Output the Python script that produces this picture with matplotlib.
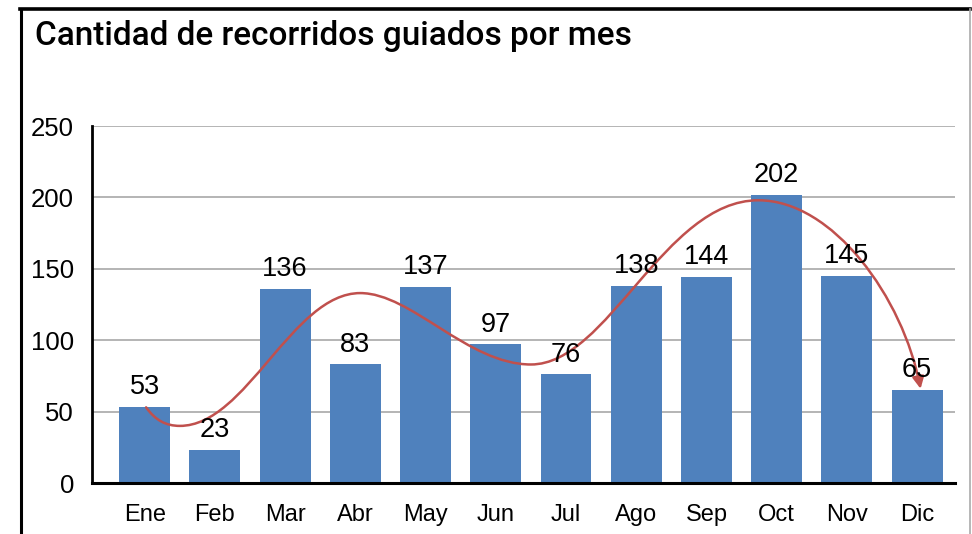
import matplotlib
matplotlib.use('Agg')
import matplotlib.pyplot as plt
from matplotlib.path import Path
from matplotlib.patches import FancyArrowPatch
from matplotlib.lines import Line2D

plt.rcParams['font.family'] = ['Liberation Sans', 'DejaVu Sans']

# datos
meses = ['Ene', 'Feb', 'Mar', 'Abr', 'May', 'Jun', 'Jul', 'Ago', 'Sep', 'Oct', 'Nov', 'Dic']
recorridos = [53, 23, 136, 83, 137, 97, 76, 138, 144, 202, 145, 65]
y_ticks = [0, 50, 100, 150, 200, 250]

# curva de tendencia dibujada a mano (bezier cubica, coordenadas de datos)
curva_x = [0.02, 0.15, 0.3, 0.5,
           1.45, 2.1, 3.07,
           3.8, 4.6, 5.5,
           6.6, 7.4, 8.74,
           9.8, 10.8, 11.05]
curva_y = [53, 44, 40, 40,
           40, 133, 133,
           133, 83, 83,
           83, 198, 198,
           198, 130, 66]

AZUL = '#4f81bd'
ROJO = '#c0504d'

fig = plt.figure(figsize=(9.72, 5.34), dpi=100)
ax = fig.add_axes([0.0947, 0.0955, 0.8878, 0.6685])

x = list(range(len(meses)))
bars = ax.bar(x, recorridos, width=0.726, color=AZUL, zorder=2)
for xi, v in zip(x, recorridos):
    ax.annotate(str(v), (xi, v), xytext=(0, 5), textcoords='offset points',
                ha='center', va='bottom', fontsize=19.5, color='black', zorder=4)

ax.set_xlim(-0.75, 11.54)
ax.set_ylim(0, 250)
ax.set_yticks(y_ticks)
ax.set_xticks(x)
ax.set_xticklabels(meses)
ax.tick_params(axis='y', length=0, pad=13, labelsize=18.5)
ax.tick_params(axis='x', length=0, pad=15, labelsize=17)
ax.yaxis.grid(True, color='#b4b4b4', linewidth=1.4, zorder=0)
ax.set_axisbelow(True)
for s in ['top', 'right']:
    ax.spines[s].set_visible(False)
ax.spines['left'].set_linewidth(2)
ax.spines['bottom'].set_linewidth(2.2)
ax.spines['bottom'].set_zorder(5)

codes = [Path.MOVETO] + [Path.CURVE4] * (len(curva_x) - 1)
camino = Path(list(zip(curva_x, curva_y)), codes)
flecha = FancyArrowPatch(path=camino, arrowstyle='-|>,head_length=0.5,head_width=0.25',
                         mutation_scale=14, color=ROJO, lw=1.8,
                         transform=ax.transData, zorder=3)
ax.add_patch(flecha)

fig.text(0.036, 0.915, 'Cantidad de recorridos guiados por mes',
         fontsize=24, fontweight='medium', color='black', va='baseline',
         family=['Roboto', 'Liberation Sans'])

# marco
fig.add_artist(Line2D([0.0216, 0.0216], [0, 0.984], color='black', lw=2.2, transform=fig.transFigure))
fig.add_artist(Line2D([0.0206, 0.998], [0.984, 0.984], color='black', lw=2.6, transform=fig.transFigure))
fig.add_artist(Line2D([0.998, 0.998], [0, 0.984], color='#aaaaaa', lw=1.2, transform=fig.transFigure))

fig.savefig('out.png', dpi=100)
